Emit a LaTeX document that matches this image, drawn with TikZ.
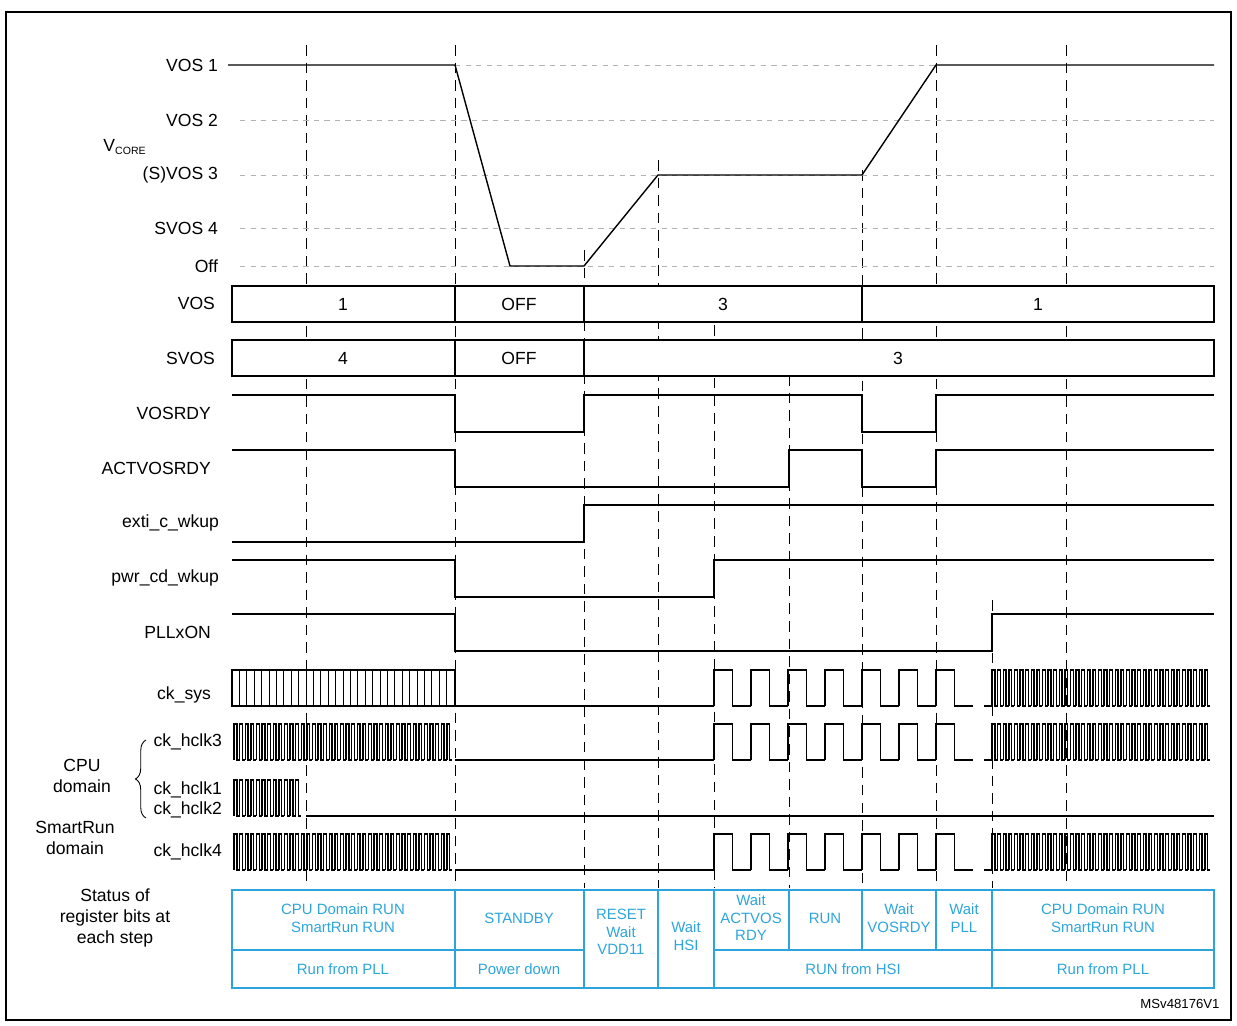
\documentclass[tikz,border=0pt]{standalone}
\usepackage{fontspec}
\setmainfont{Liberation Sans}
\usetikzlibrary{decorations.pathreplacing}
\definecolor{stblue}{RGB}{45,165,220}
\newcommand{\clkfast}[5]{% from, to, high, low, period
  \pgfmathsetmacro{\clknext}{#1+#5}
  \foreach \x in {#1,\clknext,...,#2} {
    \draw[sig] (\x,#4) -- (\x,#3) -- ({\x+#5/2},#3) -- ({\x+#5/2},#4) -- ({\x+#5},#4);
  }}
\begin{document}
\begin{tikzpicture}[x=0.02cm,y=-0.02cm,font=\fontsize{10}{12}\selectfont]
			\tikzstyle{sig}=[line width=0.8pt,line join=miter]
			\tikzstyle{grid}=[gray!60,dashed,line width=0.5pt]
			\tikzstyle{stepline}=[black,dash pattern=on 6pt off 4pt,line width=0.5pt]
			\tikzstyle{lbl}=[anchor=east,inner sep=1pt]
			\tikzstyle{cell}=[stblue,align=center,font=\fontsize{8.5}{10}\selectfont]
			\useasboundingbox (0,0) rectangle (1237,1026);
			\draw[line width=1pt] (6,12) rectangle (1231,1020);

			% step lines
			\foreach \x/\t in {306/45,455/45,584/250,658/160,714/290,789/375,862/170,936/45,992/600,1066/45}
			\draw[stepline] (\x,\t) -- (\x,888);

			% VCORE levels
			\foreach \y in {120,175,228,266}
			\draw[grid] (240,\y) -- (1214,\y);
			\draw[grid] (455,65) -- (936,65);
			\node[lbl] (vos1) at (220,65) {VOS 1};
			\node[lbl] (vos2) at (220,120) {VOS 2};
			\node[lbl] (vos3) at (220,175) {(S)VOS 3};
			\node[lbl] (svos4) at (220,228) {SVOS 4};
			\node[lbl] (off) at (220,266) {Off};
			\node (vcore) at (125,147) {V\textsubscript{\fontsize{6}{7}\selectfont CORE}};
			\draw[sig] (228,65) -- (455,65) -- (510,266) -- (584,266) -- (658,175) -- (862,175) -- (936,65) -- (1214,65);

			% VOS / SVOS buses
			\draw[sig,fill=white] (232,286) rectangle (1214,322);
			\foreach \x in {455,584,862} \draw[sig] (\x,286) -- (\x,322);
			\node at (343,304) {1};
			\node at (519,304) {OFF};
			\node at (723,304) {3};
			\node at (1038,304) {1};
			\node[lbl] (vos) at (217,303) {VOS};
			\draw[sig,fill=white] (232,340) rectangle (1214,376);
			\foreach \x in {455,584} \draw[sig] (\x,340) -- (\x,376);
			\node at (343,358) {4};
			\node at (519,358) {OFF};
			\node at (898,358) {3};
			\node[lbl] (svos) at (217,358) {SVOS};

			% level signals
			\node[lbl] (vosrdy) at (213,413) {VOSRDY};
			\draw[sig] (232,395) -- (455,395) -- (455,432) -- (584,432) -- (584,395) -- (862,395) -- (862,432) -- (936,432) -- (936,395) -- (1214,395);
			\node[lbl] (actvosrdy) at (213,468) {ACTVOSRDY};
			\draw[sig] (232,450) -- (455,450) -- (455,487) -- (789,487) -- (789,450) -- (862,450) -- (862,487) -- (936,487) -- (936,450) -- (1214,450);
			\node[lbl] (exti) at (221,523) {exti\_c\_wkup};
			\draw[sig] (232,542) -- (584,542) -- (584,505) -- (1214,505);
			\node[lbl] (pwrcd) at (221,578) {pwr\_cd\_wkup};
			\draw[sig] (232,560) -- (455,560) -- (455,597) -- (714,597) -- (714,560) -- (1214,560);
			\node[lbl] (pllxon) at (213,632) {PLLxON};
			\draw[sig] (232,614) -- (455,614) -- (455,651) -- (992,651) -- (992,614) -- (1214,614);

			% ck_sys
			\node[lbl] (cksys) at (213,695) {ck\_sys};
			\draw[sig] (232,670) rectangle (455,706);
			\foreach \x in {239.4,246.8,...,450} \draw[line width=0.5pt] (\x,670) -- (\x,706);
			\draw[sig] (455,706) -- (714,706);
			\clkfast{714}{960}{670}{706}{37}
			\draw[sig] (984,706) -- (992,706);
			\clkfast{992}{1205}{670}{706}{5.6}

			% ck_hclk3
			\node[lbl] (hclk3) at (224,742) {ck\_hclk3};
			\clkfast{234}{449}{724}{760}{5.6}
			\draw[sig] (455,760) -- (714,760);
			\clkfast{714}{960}{724}{760}{37}
			\draw[sig] (984,760) -- (992,760);
			\clkfast{992}{1205}{724}{760}{5.6}

			% ck_hclk1 / ck_hclk2
			\node[lbl] (hclk1) at (224,790) {ck\_hclk1};
			\node[lbl] (hclk2) at (224,810) {ck\_hclk2};
			\clkfast{234}{300}{780}{816}{5.6}
			\draw[sig] (306,816) -- (1214,816);

			% ck_hclk4
			\node[lbl] (hclk4) at (224,852) {ck\_hclk4};
			\clkfast{234}{449}{834}{870}{5.6}
			\draw[sig] (455,870) -- (714,870);
			\clkfast{714}{960}{834}{870}{37}
			\draw[sig] (984,870) -- (992,870);
			\clkfast{992}{1205}{834}{870}{5.6}

			% domains
			\draw[line width=0.5pt,decorate,decoration={brace,amplitude=6pt}] (146,818) -- (146,740);
			\node[align=center] (cpu) at (82,776) {CPU\\domain};
			\node[align=center] (smartrun) at (75,838) {SmartRun\\domain};

			% status table
			\node[align=center] (status) at (115,918) {Status of\\register bits at\\each step};
			\draw[stblue,line width=1pt] (232,890) rectangle (1214,988);
			\draw[stblue,line width=1pt] (232,950) -- (584,950) (714,950) -- (1214,950);
			\foreach \x in {455,584,658,714,992} \draw[stblue,line width=1pt] (\x,890) -- (\x,988);
			\foreach \x in {789,862,936} \draw[stblue,line width=1pt] (\x,890) -- (\x,950);
			\node[cell] (s1) at (343,918) {CPU Domain RUN\\SmartRun RUN};
			\node[cell] (s2) at (519,918) {STANDBY};
			\node[cell] (s3) at (621,932) {RESET\\Wait\\VDD11};
			\node[cell] (s4) at (686,936) {Wait\\HSI};
			\node[cell] (s5) at (751,918) {Wait\\ACTVOS\\RDY};
			\node[cell] (s6) at (825,918) {RUN};
			\node[cell] (s7) at (899,918) {Wait\\VOSRDY};
			\node[cell] (s8) at (964,918) {Wait\\PLL};
			\node[cell] (s9) at (1103,918) {CPU Domain RUN\\SmartRun RUN};
			\node[cell] (r1) at (343,969) {Run from PLL};
			\node[cell] (r2) at (519,969) {Power down};
			\node[cell] (r3) at (853,969) {RUN from HSI};
			\node[cell] (r4) at (1103,969) {Run from PLL};
			\node[font=\fontsize{7.5}{9}\selectfont] (ref) at (1180,1004) {MSv48176V1};
		\end{tikzpicture}
\end{document}
